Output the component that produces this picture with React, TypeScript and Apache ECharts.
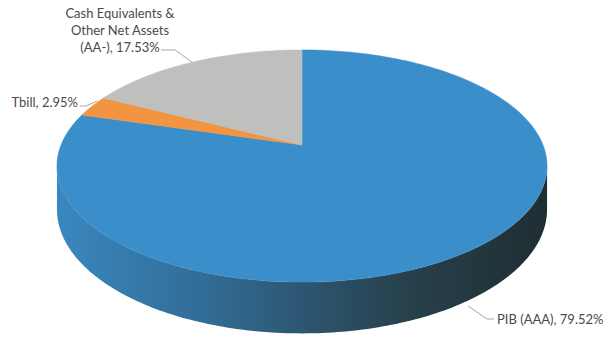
import { useEffect, useRef } from 'react';
import * as echarts from 'echarts';

// ---- data ----
const categories = ['PIB (AAA)', 'Tbill', 'Cash Equivalents &\nOther Net Assets\n(AA-)'];
const values = [79.52, 2.95, 17.53];
const colors = ['#3A8FCA', '#F29542', '#BFBFBD'];

// ---- 3D projection geometry (layout, not data) ----
const G = { cx: 302, cy: 145, R: 241, c: 112.3, k: 0.181, T: 42 };
const total = values.reduce((a, b) => a + b, 0);

function proj(deg: number, depth: number): number[] {
  const t = (deg * Math.PI) / 180;
  const s = Math.sin(t);
  const co = Math.cos(t);
  const d = 1 + G.k * s;
  return [G.cx + (G.R * co) / d, G.cy + (-G.c * s + depth * G.T) / d];
}

function arc(from: number, to: number, depth: number): number[][] {
  const n = Math.max(2, Math.ceil(Math.abs(to - from) / 1));
  const pts: number[][] = [];
  for (let i = 0; i <= n; i++) pts.push(proj(from + ((to - from) * i) / n, depth));
  return pts;
}

function sliceAngles(idx: number): [number, number] {
  let cum = 0;
  for (let i = 0; i < idx; i++) cum += values[i];
  const a1 = 90 - (360 * cum) / total;
  const a2 = 90 - (360 * (cum + values[idx])) / total;
  return [a1, a2];
}

const silhouette = (Math.asin(G.k) * 180) / Math.PI; // visible side range
const visHi = -silhouette;
const visLo = -180 + silhouette;

const sideGradient = {
  type: 'linear',
  x: 0,
  y: 0,
  x2: 1,
  y2: 0,
  colorStops: [
    { offset: 0, color: '#3A87BF' },
    { offset: 0.3, color: '#316D96' },
    { offset: 0.5, color: '#2D5672' },
    { offset: 0.72, color: '#27404B' },
    { offset: 1, color: '#1F2E32' },
  ],
};

const labelLayout = [
  { x: 497, y: 319, align: 'left', line: [[468, 306], [487, 319], [494, 319]] },
  { x: 78, y: 102, align: 'right', line: [[80, 106], [86, 106], [97, 101]] },
  { x: 120, y: 30, align: 'center', line: [[161, 50], [175, 50], [192, 62]] },
];

export default function App() {
  const ref = useRef<HTMLDivElement>(null);
  useEffect(() => {
    document.body.style.margin = '0';
    if (!ref.current) return;
    const chart = echarts.init(ref.current, undefined, { renderer: 'svg' });
    const seriesData = values.map((v, i) => ({ name: categories[i], value: v }));
    const graphics: any[] = [];
    labelLayout.forEach((l, i) => {
      graphics.push({
        type: 'polyline',
        shape: { points: l.line },
        style: { stroke: '#A6A6A6', lineWidth: 1, fill: null },
        z: 10,
      });
      graphics.push({
        type: 'text',
        x: l.x,
        y: l.y,
        style: {
          text: `${categories[i]}, ${values[i].toFixed(2)}%`,
          fill: '#4A4A4A',
          font: '13px Lato',
          align: l.align,
          verticalAlign: 'middle',
          lineHeight: 17,
        },
        z: 10,
      });
    });
    chart.setOption({
      animation: false,
      backgroundColor: '#FFFFFF',
      graphic: graphics,
      series: [
        {
          type: 'custom',
          coordinateSystem: 'none',
          z: 1,
          silent: true,
          data: seriesData,
          renderItem: (params: any) => {
            const [a1, a2] = sliceAngles(params.dataIndex);
            const hi = Math.min(a1, visHi);
            const lo = Math.max(a2, visLo);
            if (lo >= hi) return null;
            const pts = arc(hi, lo, 0).concat(arc(lo, hi, 1));
            return {
              type: 'polygon',
              shape: { points: pts },
              style: { fill: sideGradient as any, stroke: null },
            };
          },
        },
        {
          type: 'custom',
          coordinateSystem: 'none',
          z: 2,
          silent: true,
          data: seriesData,
          renderItem: (params: any) => {
            const [a1, a2] = sliceAngles(params.dataIndex);
            const pts = [[G.cx, G.cy]].concat(arc(a1, a2, 0));
            const col = colors[params.dataIndex];
            return {
              type: 'polygon',
              shape: { points: pts },
              style: { fill: col, stroke: col, lineWidth: 0.5 },
            };
          },
        },
      ],
    });
    return () => chart.dispose();
  }, []);
  return (
    <div
      ref={ref}
      style={{ position: 'fixed', left: 0, top: 0, width: 605, height: 341 }}
    />
  );
}
